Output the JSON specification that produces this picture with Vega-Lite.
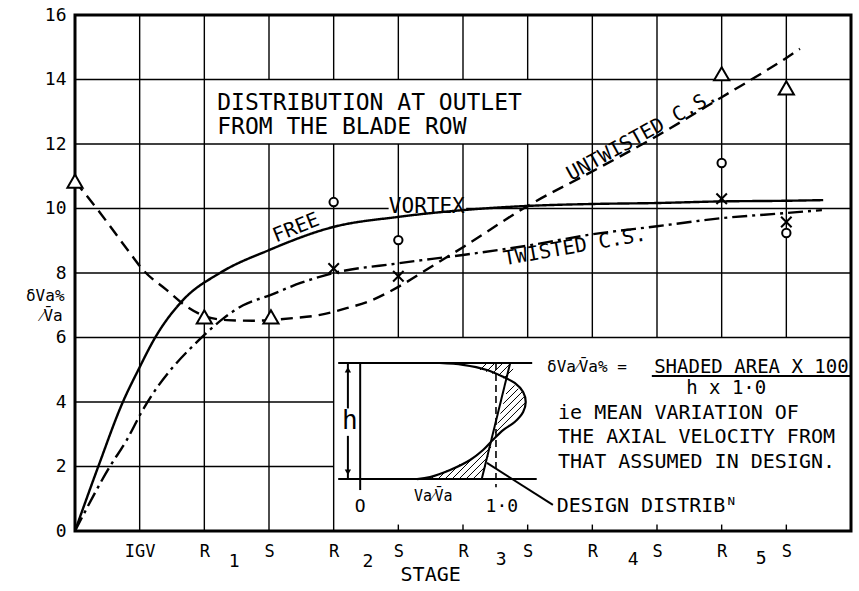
{
  "$schema": "https://vega.github.io/schema/vega-lite/v6.json",
  "width": 776,
  "height": 516,
  "autosize": {"type": "none"},
  "padding": {"left": 75, "top": 15, "right": 8, "bottom": 60},
  "background": "white",
  "config": {
    "view": {"stroke": "black", "strokeWidth": 3},
    "font": "DejaVu Sans Mono",
    "text": {"font": "DejaVu Sans Mono", "color": "black"}
  },
  "datasets": {
    "grid": [
      {"x": 1, "y": 0, "x2": 1, "y2": 16},
      {"x": 2, "y": 0, "x2": 2, "y2": 16},
      {"x": 3, "y": 0, "x2": 3, "y2": 12},
      {"x": 3, "y": 14, "x2": 3, "y2": 16},
      {"x": 4, "y": 0, "x2": 4, "y2": 12},
      {"x": 4, "y": 14, "x2": 4, "y2": 16},
      {"x": 5, "y": 6, "x2": 5, "y2": 12},
      {"x": 5, "y": 14, "x2": 5, "y2": 16},
      {"x": 6, "y": 6, "x2": 6, "y2": 12},
      {"x": 6, "y": 14, "x2": 6, "y2": 16},
      {"x": 7, "y": 6, "x2": 7, "y2": 12},
      {"x": 7, "y": 14, "x2": 7, "y2": 16},
      {"x": 8, "y": 6, "x2": 8, "y2": 16},
      {"x": 9, "y": 6, "x2": 9, "y2": 16},
      {"x": 10, "y": 6, "x2": 10, "y2": 16},
      {"x": 11, "y": 6, "x2": 11, "y2": 16},
      {"x": 0, "y": 2, "x2": 4, "y2": 2},
      {"x": 0, "y": 4, "x2": 4, "y2": 4},
      {"x": 0, "y": 6, "x2": 12, "y2": 6},
      {"x": 0, "y": 8, "x2": 12, "y2": 8},
      {"x": 0, "y": 10, "x2": 4.85, "y2": 10},
      {"x": 6.05, "y": 10, "x2": 12, "y2": 10},
      {"x": 0, "y": 12, "x2": 12, "y2": 12},
      {"x": 0, "y": 14, "x2": 12, "y2": 14},
      {"x": 5, "y": 0, "x2": 5, "y2": 0.2},
      {"x": 6, "y": 0, "x2": 6, "y2": 0.2},
      {"x": 7, "y": 0, "x2": 7, "y2": 0.2},
      {"x": 8, "y": 0, "x2": 8, "y2": 0.2},
      {"x": 9, "y": 0, "x2": 9, "y2": 0.2},
      {"x": 10, "y": 0, "x2": 10, "y2": 0.2},
      {"x": 11, "y": 0, "x2": 11, "y2": 0.2}
    ],
    "curves": [
      {"series": "free", "x": 0, "y": 0},
      {"series": "free", "x": 0.36, "y": 2},
      {"series": "free", "x": 0.74, "y": 4},
      {"series": "free", "x": 0.98, "y": 5},
      {"series": "free", "x": 1.24, "y": 6},
      {"series": "free", "x": 1.67, "y": 7.16},
      {"series": "free", "x": 2.24, "y": 8},
      {"series": "free", "x": 3, "y": 8.71},
      {"series": "free", "x": 4, "y": 9.43},
      {"series": "free", "x": 5, "y": 9.74},
      {"series": "free", "x": 6, "y": 9.95},
      {"series": "free", "x": 7, "y": 10.08},
      {"series": "free", "x": 8, "y": 10.14},
      {"series": "free", "x": 9, "y": 10.17},
      {"series": "free", "x": 10, "y": 10.22},
      {"series": "free", "x": 11, "y": 10.24},
      {"series": "free", "x": 11.57, "y": 10.26},
      {"series": "twisted", "x": 0, "y": 0},
      {"series": "twisted", "x": 0.54, "y": 2},
      {"series": "twisted", "x": 0.8, "y": 2.82},
      {"series": "twisted", "x": 1.03, "y": 3.69},
      {"series": "twisted", "x": 2, "y": 6.08},
      {"series": "twisted", "x": 2.3, "y": 6.6},
      {"series": "twisted", "x": 2.6, "y": 7.0},
      {"series": "twisted", "x": 3, "y": 7.3},
      {"series": "twisted", "x": 3.5, "y": 7.7},
      {"series": "twisted", "x": 4, "y": 8.0},
      {"series": "twisted", "x": 5, "y": 8.3},
      {"series": "twisted", "x": 6, "y": 8.56},
      {"series": "twisted", "x": 7, "y": 8.85},
      {"series": "twisted", "x": 8, "y": 9.2},
      {"series": "twisted", "x": 9, "y": 9.45},
      {"series": "twisted", "x": 10, "y": 9.7},
      {"series": "twisted", "x": 11, "y": 9.86},
      {"series": "twisted", "x": 11.55, "y": 9.95},
      {"series": "untwisted", "x": 0, "y": 10.85},
      {"series": "untwisted", "x": 0.39, "y": 9.86},
      {"series": "untwisted", "x": 0.85, "y": 8.62},
      {"series": "untwisted", "x": 1.05, "y": 8.1},
      {"series": "untwisted", "x": 1.42, "y": 7.47},
      {"series": "untwisted", "x": 1.7, "y": 7.0},
      {"series": "untwisted", "x": 2.04, "y": 6.64},
      {"series": "untwisted", "x": 2.35, "y": 6.54},
      {"series": "untwisted", "x": 2.75, "y": 6.52},
      {"series": "untwisted", "x": 3.37, "y": 6.6},
      {"series": "untwisted", "x": 3.79, "y": 6.7},
      {"series": "untwisted", "x": 4.2, "y": 6.91},
      {"series": "untwisted", "x": 4.52, "y": 7.1},
      {"series": "untwisted", "x": 5, "y": 7.57},
      {"series": "untwisted", "x": 5.49, "y": 8.17},
      {"series": "untwisted", "x": 6, "y": 8.8},
      {"series": "untwisted", "x": 7, "y": 10.08},
      {"series": "untwisted", "x": 8, "y": 11.15},
      {"series": "untwisted", "x": 9, "y": 12.25},
      {"series": "untwisted", "x": 10, "y": 13.45},
      {"series": "untwisted", "x": 11, "y": 14.67},
      {"series": "untwisted", "x": 11.21, "y": 14.95}
    ],
    "triangles": [
      {"x": 0, "y": 10.85},
      {"x": 2, "y": 6.64},
      {"x": 3.03, "y": 6.64},
      {"x": 10, "y": 14.18},
      {"x": 11, "y": 13.74}
    ],
    "circles": [
      {"x": 4, "y": 10.2},
      {"x": 5, "y": 9.02},
      {"x": 10, "y": 11.41},
      {"x": 11, "y": 9.24}
    ],
    "crosses": [
      {"x": 4, "y": 8.14},
      {"x": 5, "y": 7.9},
      {"x": 10, "y": 10.3},
      {"x": 11, "y": 9.58}
    ],
    "inset": [
      {"x": 4.07, "y": 5.21, "x2": 7.07, "y2": 5.21},
      {"x": 4.07, "y": 1.61, "x2": 7.14, "y2": 1.61},
      {"x": 4.41, "y": 5.21, "x2": 4.41, "y2": 1.27},
      {"x": 6.73, "y": 5.21, "x2": 6.29, "y2": 1.61},
      {"x": 6.37, "y": 2.11, "x2": 7.39, "y2": 0.81},
      {"x": 8.92, "y": 4.81, "x2": 12, "y2": 4.81},
      {"x": 4.22, "y": 5.21, "x2": 4.22, "y2": 3.8},
      {"x": 4.22, "y": 2.95, "x2": 4.22, "y2": 1.61}
    ],
    "insetDash": [
      {"x": 6.51, "y": 5.21, "x2": 6.51, "y2": 1.36}
    ],
    "hatch": [
      {"x": 5.505, "y": 1.612, "x2": 5.565, "y2": 1.733},
      {"x": 5.613, "y": 1.612, "x2": 5.743, "y2": 1.873},
      {"x": 5.721, "y": 1.612, "x2": 5.949, "y2": 2.068},
      {"x": 5.83, "y": 1.612, "x2": 6.207, "y2": 2.369},
      {"x": 5.938, "y": 1.612, "x2": 6.434, "y2": 2.608},
      {"x": 6.046, "y": 1.612, "x2": 6.391, "y2": 2.304},
      {"x": 6.154, "y": 1.612, "x2": 6.349, "y2": 2.003},
      {"x": 6.665, "y": 4.248, "x2": 6.798, "y2": 4.515},
      {"x": 6.621, "y": 3.944, "x2": 6.855, "y2": 4.412},
      {"x": 6.578, "y": 3.64, "x2": 6.912, "y2": 4.31},
      {"x": 6.536, "y": 3.34, "x2": 6.941, "y2": 4.152},
      {"x": 6.493, "y": 3.036, "x2": 6.969, "y2": 3.991},
      {"x": 6.263, "y": 4.992, "x2": 6.371, "y2": 5.209},
      {"x": 6.358, "y": 4.936, "x2": 6.495, "y2": 5.209},
      {"x": 6.454, "y": 4.881, "x2": 6.618, "y2": 5.209},
      {"x": 6.546, "y": 4.816, "x2": 6.742, "y2": 5.209},
      {"x": 6.629, "y": 4.735, "x2": 6.775, "y2": 5.026}
    ],
    "profile": [
      {"o": 1, "x": 5.29, "y": 1.61},
      {"o": 2, "x": 5.49, "y": 1.67},
      {"o": 3, "x": 5.8, "y": 1.89},
      {"o": 4, "x": 6.11, "y": 2.2},
      {"o": 5, "x": 6.31, "y": 2.51},
      {"o": 6, "x": 6.46, "y": 2.82},
      {"o": 7, "x": 6.62, "y": 3.13},
      {"o": 8, "x": 6.8, "y": 3.38},
      {"o": 9, "x": 6.93, "y": 3.69},
      {"o": 10, "x": 6.97, "y": 4.0},
      {"o": 11, "x": 6.93, "y": 4.31},
      {"o": 12, "x": 6.8, "y": 4.59},
      {"o": 13, "x": 6.62, "y": 4.78},
      {"o": 14, "x": 6.37, "y": 4.99},
      {"o": 15, "x": 6.0, "y": 5.15},
      {"o": 16, "x": 5.64, "y": 5.21}
    ],
    "texts": [
      {"grp": "title", "text": "DISTRIBUTION AT OUTLET", "x": 2.2, "y": 13.27},
      {"grp": "title", "text": "FROM THE BLADE ROW", "x": 2.2, "y": 12.53},
      {"grp": "note", "text": "ie MEAN VARIATION OF", "x": 7.47, "y": 3.66},
      {"grp": "note", "text": "THE AXIAL VELOCITY FROM", "x": 7.47, "y": 2.91},
      {"grp": "note", "text": "THAT ASSUMED IN DESIGN.", "x": 7.47, "y": 2.14},
      {"grp": "note", "text": "DESIGN DISTRIBᴺ", "x": 7.45, "y": 0.78},
      {"grp": "frac", "text": "SHADED AREA X 100", "x": 10.46, "y": 5.09},
      {"grp": "frac", "text": "h x 1·0", "x": 10.07, "y": 4.43},
      {"grp": "formula", "text": "δVa⁄V̄a% =", "x": 7.3, "y": 5.09},
      {"grp": "free", "text": "FREE", "x": 3.42, "y": 9.4},
      {"grp": "vortex", "text": "VORTEX", "x": 5.44, "y": 10.05},
      {"grp": "untwisted", "text": "UNTWISTED C.S.", "x": 8.77, "y": 12.28},
      {"grp": "twisted", "text": "TWISTED  C.S.", "x": 7.73, "y": 8.81},
      {"grp": "small", "text": "1", "x": 2.46, "y": -0.96},
      {"grp": "small", "text": "2", "x": 4.53, "y": -0.96},
      {"grp": "small", "text": "3", "x": 6.59, "y": -0.9},
      {"grp": "small", "text": "4", "x": 8.63, "y": -0.9},
      {"grp": "small", "text": "5", "x": 10.61, "y": -0.87},
      {"grp": "small", "text": "O", "x": 4.41, "y": 0.74},
      {"grp": "small", "text": "1·0", "x": 6.6, "y": 0.74},
      {"grp": "stage", "text": "STAGE", "x": 5.5, "y": -1.37},
      {"grp": "h", "text": "h", "x": 4.25, "y": 3.4},
      {"grp": "va", "text": "Va⁄V̄a", "x": 5.54, "y": 1.1},
      {"grp": "ytitle", "text": "δVa%", "x": -0.46, "y": 7.3},
      {"grp": "ytitle", "text": "⁄V̄a", "x": -0.36, "y": 6.66}
    ]
  },
  "layer": [
    {
      "data": {"name": "grid"},
      "mark": {"type": "rule", "color": "black", "strokeWidth": 1.4},
      "encoding": {
        "x": {"field": "x", "type": "quantitative", "scale": {"domain": [0, 12], "nice": false, "zero": false},
          "axis": {"values": [1, 2, 3, 4, 5, 6, 7, 8, 9, 10, 11], "labelExpr": "datum.value == 1 ? 'IGV' : (datum.value % 2 == 0 ? 'R' : 'S')",
            "ticks": false, "domain": false, "grid": false, "title": null, "labelFont": "DejaVu Sans Mono", "labelFontSize": 17,
            "labelColor": "black", "labelPadding": 12, "labelOverlap": false, "labelFlush": false}},
        "y": {"field": "y", "type": "quantitative", "scale": {"domain": [0, 16], "nice": false},
          "axis": {"values": [0, 2, 4, 6, 8, 10, 12, 14, 16], "ticks": false, "domain": false, "grid": false, "title": null,
            "labelFont": "DejaVu Sans Mono", "labelFontSize": 18, "labelColor": "black", "labelPadding": 9, "labelOverlap": false, "labelFlush": false}},
        "x2": {"field": "x2"},
        "y2": {"field": "y2"}
      }
    },
    {
      "data": {"name": "curves"},
      "mark": {"type": "line", "color": "black", "strokeWidth": 2.4, "interpolate": "monotone"},
      "encoding": {
        "x": {"field": "x", "type": "quantitative"},
        "y": {"field": "y", "type": "quantitative"},
        "strokeDash": {"field": "series", "type": "nominal", "scale": {"domain": ["free", "twisted", "untwisted"], "range": [[1, 0], [15, 5, 3, 5], [12, 7]]}, "legend": null}
      }
    },
    {
      "data": {"name": "inset"},
      "mark": {"type": "rule", "color": "black", "strokeWidth": 2},
      "encoding": {
        "x": {"field": "x", "type": "quantitative"}, "y": {"field": "y", "type": "quantitative"},
        "x2": {"field": "x2"}, "y2": {"field": "y2"}
      }
    },
    {
      "data": {"name": "insetDash"},
      "mark": {"type": "rule", "color": "black", "strokeWidth": 1.6, "strokeDash": [7, 4]},
      "encoding": {
        "x": {"field": "x", "type": "quantitative"}, "y": {"field": "y", "type": "quantitative"},
        "x2": {"field": "x2"}, "y2": {"field": "y2"}
      }
    },
    {
      "data": {"name": "hatch"},
      "mark": {"type": "rule", "color": "black", "strokeWidth": 1},
      "encoding": {
        "x": {"field": "x", "type": "quantitative"}, "y": {"field": "y", "type": "quantitative"},
        "x2": {"field": "x2"}, "y2": {"field": "y2"}
      }
    },
    {
      "data": {"name": "profile"},
      "mark": {"type": "line", "color": "black", "strokeWidth": 2.2, "interpolate": "catmull-rom"},
      "encoding": {
        "x": {"field": "x", "type": "quantitative"},
        "y": {"field": "y", "type": "quantitative"},
        "order": {"field": "o", "type": "quantitative"}
      }
    },
    {
      "data": {"values": [{"x": 4.22, "y": 5.0}]},
      "mark": {"type": "point", "shape": "triangle-up", "filled": true, "color": "black", "size": 40, "opacity": 1},
      "encoding": {"x": {"field": "x", "type": "quantitative"}, "y": {"field": "y", "type": "quantitative"}}
    },
    {
      "data": {"values": [{"x": 4.22, "y": 1.82}]},
      "mark": {"type": "point", "shape": "triangle-down", "filled": true, "color": "black", "size": 40, "opacity": 1},
      "encoding": {"x": {"field": "x", "type": "quantitative"}, "y": {"field": "y", "type": "quantitative"}}
    },
    {
      "data": {"name": "triangles"},
      "mark": {"type": "point", "shape": "triangle-up", "filled": true, "fill": "white", "stroke": "black", "strokeWidth": 2, "size": 230, "opacity": 1},
      "encoding": {"x": {"field": "x", "type": "quantitative"}, "y": {"field": "y", "type": "quantitative"}}
    },
    {
      "data": {"name": "circles"},
      "mark": {"type": "point", "shape": "circle", "filled": true, "fill": "white", "stroke": "black", "strokeWidth": 2, "size": 70, "opacity": 1},
      "encoding": {"x": {"field": "x", "type": "quantitative"}, "y": {"field": "y", "type": "quantitative"}}
    },
    {
      "data": {"name": "crosses"},
      "mark": {"type": "point", "shape": "M-1,-1L1,1M1,-1L-1,1", "filled": false, "stroke": "black", "strokeWidth": 2, "size": 110, "opacity": 1},
      "encoding": {"x": {"field": "x", "type": "quantitative"}, "y": {"field": "y", "type": "quantitative"}}
    },
    {
      "data": {"name": "texts"},
      "transform": [{"filter": "datum.grp == 'title'"}],
      "mark": {"type": "text", "fontSize": 23, "align": "left", "baseline": "middle", "color": "black"},
      "encoding": {"x": {"field": "x", "type": "quantitative"}, "y": {"field": "y", "type": "quantitative"}, "text": {"field": "text"}}
    },
    {
      "data": {"name": "texts"},
      "transform": [{"filter": "datum.grp == 'note'"}],
      "mark": {"type": "text", "fontSize": 20, "align": "left", "baseline": "middle", "color": "black"},
      "encoding": {"x": {"field": "x", "type": "quantitative"}, "y": {"field": "y", "type": "quantitative"}, "text": {"field": "text"}}
    },
    {
      "data": {"name": "texts"},
      "transform": [{"filter": "datum.grp == 'frac'"}],
      "mark": {"type": "text", "fontSize": 19, "align": "center", "baseline": "middle", "color": "black"},
      "encoding": {"x": {"field": "x", "type": "quantitative"}, "y": {"field": "y", "type": "quantitative"}, "text": {"field": "text"}}
    },
    {
      "data": {"name": "texts"},
      "transform": [{"filter": "datum.grp == 'formula'"}],
      "mark": {"type": "text", "fontSize": 16, "align": "left", "baseline": "middle", "color": "black"},
      "encoding": {"x": {"field": "x", "type": "quantitative"}, "y": {"field": "y", "type": "quantitative"}, "text": {"field": "text"}}
    },
    {
      "data": {"name": "texts"},
      "transform": [{"filter": "datum.grp == 'free'"}],
      "mark": {"type": "text", "fontSize": 20, "align": "center", "baseline": "middle", "angle": -22, "color": "black"},
      "encoding": {"x": {"field": "x", "type": "quantitative"}, "y": {"field": "y", "type": "quantitative"}, "text": {"field": "text"}}
    },
    {
      "data": {"name": "texts"},
      "transform": [{"filter": "datum.grp == 'vortex'"}],
      "mark": {"type": "text", "fontSize": 21, "align": "center", "baseline": "middle", "color": "black"},
      "encoding": {"x": {"field": "x", "type": "quantitative"}, "y": {"field": "y", "type": "quantitative"}, "text": {"field": "text"}}
    },
    {
      "data": {"name": "texts"},
      "transform": [{"filter": "datum.grp == 'untwisted'"}],
      "mark": {"type": "text", "fontSize": 20, "align": "center", "baseline": "middle", "angle": -29, "color": "black"},
      "encoding": {"x": {"field": "x", "type": "quantitative"}, "y": {"field": "y", "type": "quantitative"}, "text": {"field": "text"}}
    },
    {
      "data": {"name": "texts"},
      "transform": [{"filter": "datum.grp == 'twisted'"}],
      "mark": {"type": "text", "fontSize": 20, "align": "center", "baseline": "middle", "angle": -10, "color": "black"},
      "encoding": {"x": {"field": "x", "type": "quantitative"}, "y": {"field": "y", "type": "quantitative"}, "text": {"field": "text"}}
    },
    {
      "data": {"name": "texts"},
      "transform": [{"filter": "datum.grp == 'small'"}],
      "mark": {"type": "text", "fontSize": 18, "align": "center", "baseline": "middle", "color": "black"},
      "encoding": {"x": {"field": "x", "type": "quantitative"}, "y": {"field": "y", "type": "quantitative"}, "text": {"field": "text"}}
    },
    {
      "data": {"name": "texts"},
      "transform": [{"filter": "datum.grp == 'stage'"}],
      "mark": {"type": "text", "fontSize": 20, "align": "center", "baseline": "middle", "color": "black"},
      "encoding": {"x": {"field": "x", "type": "quantitative"}, "y": {"field": "y", "type": "quantitative"}, "text": {"field": "text"}}
    },
    {
      "data": {"name": "texts"},
      "transform": [{"filter": "datum.grp == 'h'"}],
      "mark": {"type": "text", "fontSize": 26, "align": "center", "baseline": "middle", "color": "black"},
      "encoding": {"x": {"field": "x", "type": "quantitative"}, "y": {"field": "y", "type": "quantitative"}, "text": {"field": "text"}}
    },
    {
      "data": {"name": "texts"},
      "transform": [{"filter": "datum.grp == 'va'"}],
      "mark": {"type": "text", "fontSize": 15, "align": "center", "baseline": "middle", "color": "black"},
      "encoding": {"x": {"field": "x", "type": "quantitative"}, "y": {"field": "y", "type": "quantitative"}, "text": {"field": "text"}}
    },
    {
      "data": {"name": "texts"},
      "transform": [{"filter": "datum.grp == 'ytitle'"}],
      "mark": {"type": "text", "fontSize": 16, "align": "center", "baseline": "middle", "color": "black"},
      "encoding": {"x": {"field": "x", "type": "quantitative"}, "y": {"field": "y", "type": "quantitative"}, "text": {"field": "text"}}
    }
  ]
}
